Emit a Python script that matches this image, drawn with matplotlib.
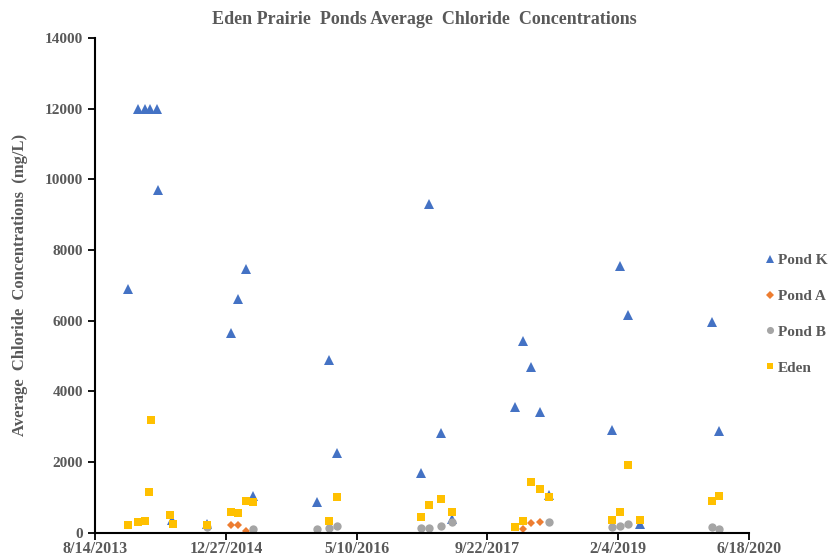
import numpy as np
import pandas as pd
import matplotlib
matplotlib.use('Agg')
import matplotlib.pyplot as plt
import matplotlib.dates as mdates

# data
pond_k_dates = ['2013-12-18', '2014-01-24', '2014-02-21', '2014-03-12', '2014-04-07',
                '2014-04-11', '2014-06-04', '2014-10-16', '2015-01-16', '2015-02-12',
                '2015-03-14', '2015-04-10', '2015-12-12', '2016-01-26', '2016-02-24',
                '2017-01-12', '2017-02-10', '2017-03-30', '2017-05-10', '2018-01-04',
                '2018-02-06', '2018-03-08', '2018-04-11', '2018-05-17', '2019-01-10',
                '2019-02-12', '2019-03-12', '2019-04-29', '2020-01-28', '2020-02-25']
pond_k_vals = [6900, 12000, 12000, 12000, 12000,
               9700, 350, 250, 5650, 6600,
               7460, 1040, 880, 4900, 2260,
               1700, 9300, 2830, 400, 3560,
               5420, 4690, 3420, 1070, 2900,
               7560, 6170, 250, 5970, 2870]

pond_a_dates = ['2015-01-16', '2015-02-12', '2015-03-14', '2018-02-06', '2018-03-08', '2018-04-11']
pond_a_vals = [230, 230, 40, 110, 270, 305]

pond_b_dates = ['2014-10-16', '2015-04-10', '2015-12-12', '2016-01-26', '2016-02-24',
                '2017-01-12', '2017-02-10', '2017-03-30', '2017-05-10', '2018-05-17',
                '2019-01-10', '2019-02-12', '2019-03-12', '2020-01-28', '2020-02-25']
pond_b_vals = [170, 96, 96, 133, 190,
               133, 142, 190, 294, 294,
               170, 190, 255, 153, 105]

eden_dates = ['2013-12-18', '2014-01-24', '2014-02-21', '2014-03-07', '2014-03-15',
              '2014-05-27', '2014-06-08', '2014-10-16', '2015-01-16', '2015-02-12',
              '2015-03-14', '2015-04-10', '2016-01-26', '2016-02-24', '2017-01-12',
              '2017-02-10', '2017-03-30', '2017-05-10', '2018-01-04', '2018-02-06',
              '2018-03-08', '2018-04-11', '2018-05-17', '2019-01-10', '2019-02-12',
              '2019-03-12', '2019-04-29', '2020-01-28', '2020-02-25']
eden_vals = [226, 294, 322, 1150, 3190,
             500, 255, 218, 586, 566,
             897, 860, 331, 1019, 453,
             784, 954, 577, 170, 340,
             1426, 1228, 1019, 359, 577,
             1907, 359, 897, 1039]

xtick_dates = ['2013-08-14', '2014-12-27', '2016-05-10', '2017-09-22', '2019-02-04', '2020-06-18']
xtick_labels = ['8/14/2013', '12/27/2014', '5/10/2016', '9/22/2017', '2/4/2019', '6/18/2020']
yticks = [0, 2000, 4000, 6000, 8000, 10000, 12000, 14000]

grey = '#595959'
plt.rcParams['font.family'] = ['Liberation Serif', 'DejaVu Serif']
plt.rcParams['font.weight'] = 'bold'

fig = plt.figure(figsize=(8.38, 5.56), dpi=100)
ax = fig.add_axes([0.1134, 0.0419, 0.7804, 0.8898])

series = [
    ('Pond K', pond_k_dates, pond_k_vals, '^', '#4472C4', 6.5),
    ('Pond A', pond_a_dates, pond_a_vals, 'D', '#ED7D31', 4.3),
    ('Pond B', pond_b_dates, pond_b_vals, 'o', '#A5A5A5', 6),
    ('Eden', eden_dates, eden_vals, 's', '#FFC000', 5.5),
]
for name, d, v, m, c, ms in series:
    ax.plot(pd.to_datetime(d), v, linestyle='none', marker=m, color=c,
            markersize=ms, markeredgewidth=0, label=name)

ax.set_xlim(pd.Timestamp(xtick_dates[0]), pd.Timestamp(xtick_dates[-1]))
ax.set_ylim(0, 14000)
ax.set_xticks(pd.to_datetime(xtick_dates))
ax.set_xticklabels(xtick_labels)
ax.set_yticks(yticks)
ax.set_yticklabels([str(t) for t in yticks])

for s in ['top', 'right']:
    ax.spines[s].set_visible(False)
for s in ['left', 'bottom']:
    ax.spines[s].set_linewidth(1.5)
    ax.spines[s].set_color('black')
ax.tick_params(axis='both', direction='out', length=5, width=1.3, colors='black',
               labelcolor=grey, labelsize=11)
ax.tick_params(axis='x', pad=1, labelsize=11.5)

ax.set_ylabel('Average  Chloride  Concentrations  (mg/L)', fontsize=12, color=grey,
              fontweight='bold', labelpad=12)
fig.text(0.506, 0.965, 'Eden Prairie  Ponds Average  Chloride  Concentrations',
         ha='center', va='center', fontsize=13, color=grey, fontweight='bold')

leg = ax.legend(loc='center left', bbox_to_anchor=(1.005, 0.442), frameon=False,
                fontsize=11, labelspacing=1.45, handlelength=0.5, handletextpad=0.3,
                markerscale=0.85)
for t in leg.get_texts():
    t.set_color(grey)

fig.savefig('out.png', dpi=100)
